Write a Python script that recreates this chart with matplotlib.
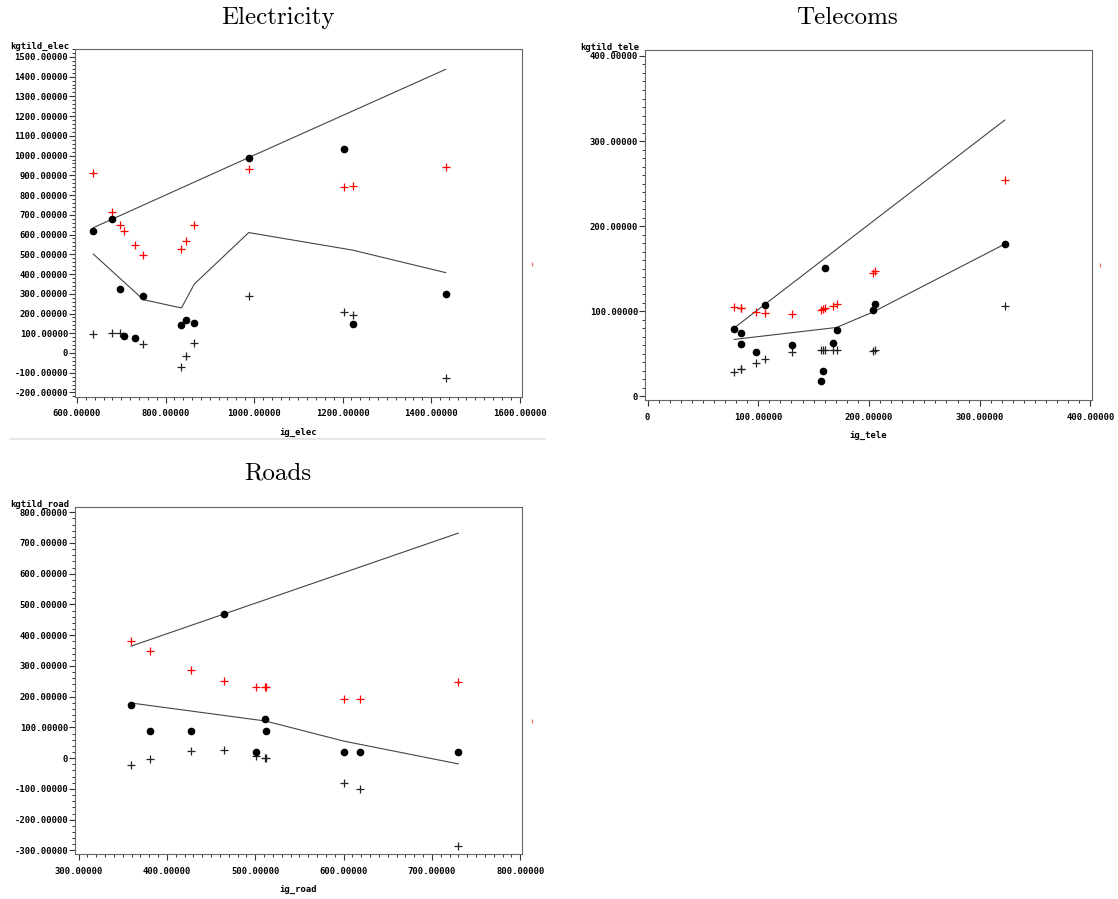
import numpy as np
import matplotlib
matplotlib.use('Agg')
import matplotlib.pyplot as plt
from matplotlib.ticker import MultipleLocator, FuncFormatter
from matplotlib.lines import Line2D

nan = np.nan

# electricity
elec_x = [637, 680, 698, 706, 730, 750, 836, 847, 865, 988, 1203, 1223, 1433]
elec_obs = [618, 680, 326, 86, 76, 288, 142, 169, 150, 990, 1033, 147, 300]
elec_hi = [910, 712, 646, 620, 546, 498, 527, 569, 647, 933, 843, 846, 943]
elec_lo = [96, 103, 100, nan, nan, 45, -70, -13, 52, 287, 209, 194, -129]
elec_up_x = [637, 988, 1433]
elec_up_y = [635, 990, 1437]
elec_dn_x = [637, 750, 836, 865, 988, 1223, 1433]
elec_dn_y = [501, 270, 228, 349, 610, 521, 407]
elec_side = (1628, 452)

# telecoms
tele_x = [78.3, 84.1, 84.6, 98.1, 106.5, 130.9, 156.4, 158.4, 160.7, 167.2, 170.7, 203.7, 205.7, 322.7]
tele_obs = [79, 74.5, 61.5, 52.2, 107.5, 60, 18.2, 30, 151, 63.2, 78.4, 102, 108.6, 179.2]
tele_hi = [105.3, 103.4, 103.4, 99.4, 97.8, 96.3, 102, 102.7, 103.9, 106.7, 108.2, 145.2, 146.8, 253.7]
tele_lo = [29.1, 32.6, 32.6, 39.3, 43.6, 51.8, 55, 55, 55, 54.2, 54.2, 53.6, 54, 106.7]
tele_up_x = [78.3, 322.7]
tele_up_y = [80.5, 324.7]
tele_dn_x = [78.3, 170.7, 203.7, 322.7]
tele_dn_y = [67, 81, 99.2, 179]
tele_side = (409, 154)

# roads
road_x = [359.4, 381.2, 427.3, 464.9, 501.1, 511.0, 511.8, 600.3, 618.1, 729.7]
road_obs = [174, 87, 87, 468, 20.7, 127, 87, 20.7, 20.7, 20.7]
road_hi = [381, 349, 287, 251, 233, 233, 230, 191.5, 192.6, 248]
road_lo = [-21.8, -2, 24, 26, 8.7, 2, 1, -80.5, -101, -286]
road_up_x = [359.4, 729.7]
road_up_y = [364.5, 732]
road_dn_x = [359.4, 511.4, 600.3, 729.7]
road_dn_y = [179.5, 121, 55.5, -18.5]
road_side = (813, 121)

W, H = 1118, 899
fig = plt.figure(figsize=(W / 100, H / 100), dpi=100)

tickfont = dict(family='DejaVu Sans Mono', weight='bold', size=6.4)


def fmt(v, pos):
    if abs(v) < 1e-9:
        return '0'
    return '%.5f' % v


def panel(rect, xlim, ylim, xmaj, xmin, ymaj, ymin, x, obs, hi, lo, ux, uy, dx, dy, side,
          xlab, ylab, title, title_xy):
    l, r, t, b = rect
    ax = fig.add_axes([l / W, 1 - b / H, (r - l) / W, (b - t) / H])
    ax.plot(ux, uy, color='#444444', lw=0.8)
    ax.plot(dx, dy, color='#444444', lw=0.8)
    ax.plot(x, lo, '+', color='#222222', ms=5.5, mew=0.9, ls='none')
    ax.plot(x, hi, '+', color='red', ms=5.5, mew=0.9, ls='none')
    ax.plot(x, obs, 'o', color='black', ms=4.5, ls='none')
    ax.plot([side[0]], [side[1]], '|', color='#ff7070', ms=3, mew=0.9, clip_on=False)
    ax.set_xlim(*xlim)
    ax.set_ylim(*ylim)
    ax.xaxis.set_major_locator(MultipleLocator(xmaj))
    ax.xaxis.set_minor_locator(MultipleLocator(xmin))
    ax.yaxis.set_major_locator(MultipleLocator(ymaj))
    ax.yaxis.set_minor_locator(MultipleLocator(ymin))
    ax.xaxis.set_major_formatter(FuncFormatter(fmt))
    ax.yaxis.set_major_formatter(FuncFormatter(fmt))
    ax.tick_params(which='major', direction='out', length=4, width=0.8, color='#333333', pad=5)
    ax.tick_params(which='minor', direction='out', length=2.5, width=0.7, color='#333333')
    ax.tick_params(axis='y', which='major', pad=1)
    ax.tick_params(top=False, right=False, which='both')
    for lab in ax.get_xticklabels() + ax.get_yticklabels():
        lab.set_fontproperties(tickfont)
    for s in ax.spines.values():
        s.set_color('#666666')
        s.set_linewidth(0.8)
    fig.text((l - 6) / W, 1 - (t - 3) / H, ylab, ha='right', va='center',
             fontfamily='DejaVu Sans Mono', fontweight='bold', fontsize=6.4)
    fig.text((l + r) / 2 / W, 1 - (b + 35) / H, xlab, ha='center', va='center',
             fontfamily='DejaVu Sans Mono', fontweight='bold', fontsize=6.4)
    fig.text(title_xy[0] / W, 1 - title_xy[1] / H, title, ha='center', va='baseline',
             family='cmr10', fontsize=18)
    return ax


panel((75, 522, 49, 397), (595.5, 1605.4), (-223, 1540), 200, 20, 100, 20,
      elec_x, elec_obs, elec_hi, elec_lo, elec_up_x, elec_up_y, elec_dn_x, elec_dn_y, elec_side,
      'ig_elec', 'kgtild_elec', 'Electricity', (278, 24))
panel((645, 1092, 50, 400), (-2.3, 401.5), (-4.2, 407), 100, 10, 100, 10,
      tele_x, tele_obs, tele_hi, tele_lo, tele_up_x, tele_up_y, tele_dn_x, tele_dn_y, tele_side,
      'ig_tele', 'kgtild_tele', 'Telecoms', (847, 24))
panel((75, 522, 507, 854), (295.9, 801.9), (-311.6, 817), 100, 10, 100, 20,
      road_x, road_obs, road_hi, road_lo, road_up_x, road_up_y, road_dn_x, road_dn_y, road_side,
      'ig_road', 'kgtild_road', 'Roads', (278, 479))

fig.add_artist(Line2D([10 / W, 545 / W], [1 - 439 / H, 1 - 439 / H], color='#e2e2e2', lw=1.2))

fig.savefig('out.png', dpi=100)
